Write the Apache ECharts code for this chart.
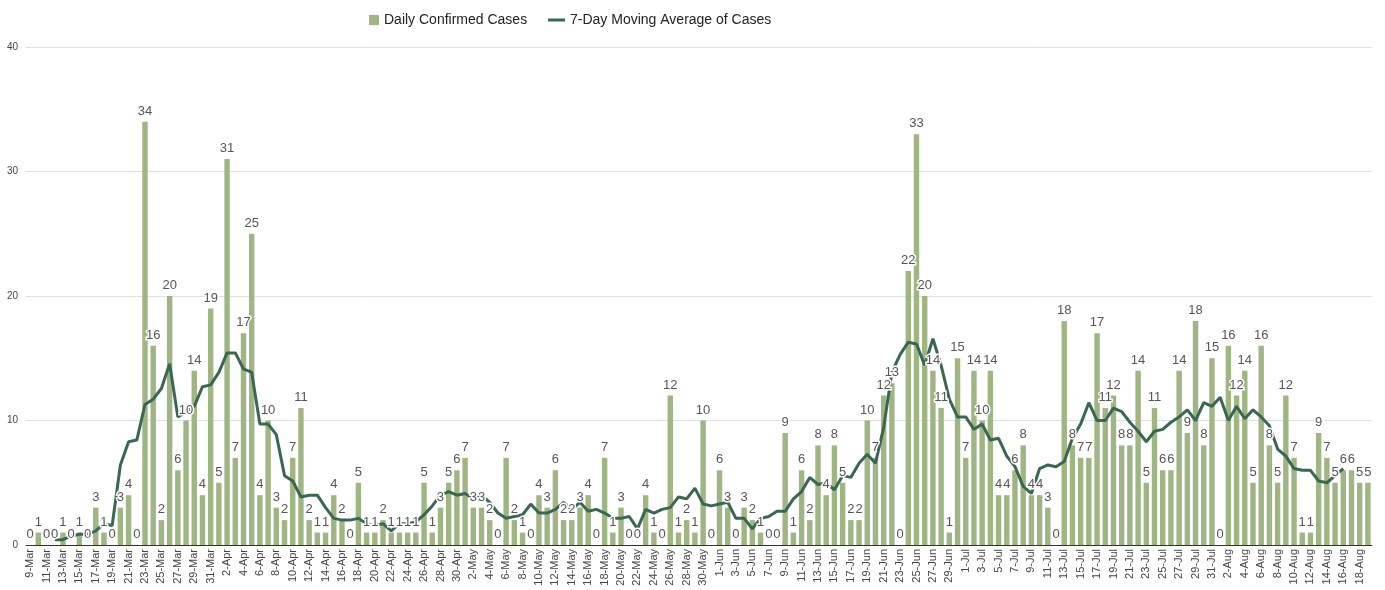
<!DOCTYPE html>
<html lang="en">
<head>
    <meta charset="UTF-8">
    <title>Daily Confirmed Cases</title>
    <script type="text/javascript" src="https://cdn.jsdelivr.net/npm/echarts@6/dist/echarts.min.js"></script>
    <style>
        html, body {
            margin: 0;
            padding: 0;
            background: #fff;
        }

        #container {
            width: 1385px;
            height: 590px;
        }
    </style>
</head>
<body>
<div id="container"></div>
</body>
<script>
    // month name, first day, last day shown on the axis
    const months = [['Mar', 9, 31], ['Apr', 1, 30], ['May', 1, 31], ['Jun', 1, 30], ['Jul', 1, 31], ['Aug', 1, 19]];

    const dailyMar = [0, 1, 0, 0, 1, 0, 1, 0, 3, 1, 0, 3, 4, 0, 34, 16, 2, 20, 6, 10, 14, 4, 19];
    const dailyApr = [5, 31, 7, 17, 25, 4, 10, 3, 2, 7, 11, 2, 1, 1, 4, 2, 0, 5, 1, 1, 2, 1, 1, 1, 1, 5, 1, 3, 5, 6];
    const dailyMay = [7, 3, 3, 2, 0, 7, 2, 1, 0, 4, 3, 6, 2, 2, 3, 4, 0, 7, 1, 3, 0, 0, 4, 1, 0, 12, 1, 2, 1, 10, 0];
    const dailyJun = [6, 3, 0, 3, 2, 1, 0, 0, 9, 1, 6, 2, 8, 4, 8, 5, 2, 2, 10, 7, 12, 13, 0, 22, 33, 20, 14, 11, 1, 15];
    const dailyJul = [7, 14, 10, 14, 4, 4, 6, 8, 4, 4, 3, 0, 18, 8, 7, 7, 17, 11, 12, 8, 8, 14, 5, 11, 6, 6, 14, 9, 18, 8, 15];
    const dailyAug = [0, 16, 12, 14, 5, 16, 8, 5, 12, 7, 1, 1, 9, 7, 5, 6, 6, 5, 5];

    // 7-day moving average (centred, blank at both ends)
    const avgMar = [null, null, null, 0.43, 0.43, 0.71, 0.86, 0.86, 1.14, 1.71, 1.57, 6.43, 8.29, 8.43, 11.29, 11.71, 12.57, 14.57, 10.29, 10.71, 11.14, 12.71, 12.86];
    const avgApr = [13.86, 15.43, 15.43, 14.14, 13.86, 9.71, 9.71, 8.86, 5.57, 5.14, 3.86, 4.0, 4.0, 3.0, 2.14, 2.0, 2.0, 2.14, 1.71, 1.57, 1.71, 1.14, 1.71, 1.71, 1.86, 2.43, 3.14, 4.0, 4.29, 4.0];
    const avgMay = [4.14, 3.71, 4.0, 3.43, 2.57, 2.14, 2.29, 2.43, 3.29, 2.57, 2.57, 2.86, 3.43, 2.86, 3.43, 2.71, 2.86, 2.57, 2.14, 2.14, 2.29, 1.29, 2.86, 2.57, 2.86, 3.0, 3.86, 3.71, 4.57, 3.29, 3.14];
    const avgJun = [3.29, 3.43, 2.14, 2.14, 1.29, 2.14, 2.29, 2.71, 2.71, 3.71, 4.29, 5.43, 4.86, 5.0, 4.43, 5.57, 5.43, 6.57, 7.29, 6.57, 9.43, 13.86, 15.29, 16.29, 16.14, 14.43, 16.57, 14.43, 11.71, 10.29];
    const avgJul = [10.29, 9.29, 9.71, 8.43, 8.57, 7.14, 6.29, 4.71, 4.14, 6.14, 6.43, 6.29, 6.71, 8.57, 9.71, 11.43, 10.0, 10.0, 11.0, 10.71, 9.86, 9.14, 8.29, 9.14, 9.29, 9.86, 10.29, 10.86, 10.0, 11.43, 11.14];
    const avgAug = [11.86, 10.0, 11.14, 10.14, 10.86, 10.29, 9.57, 7.71, 7.14, 6.14, 6.0, 6.0, 5.14, 5.0, 5.57, 6.14, null, null, null];

    const yTicks = [0, 10, 20, 30, 40];

    const categories = [];
    months.forEach(m => {
        for (let d = m[1]; d <= m[2]; d++) categories.push(d + '-' + m[0]);
    });
    const daily = [].concat(dailyMar, dailyApr, dailyMay, dailyJun, dailyJul, dailyAug);
    const average = [].concat(avgMar, avgApr, avgMay, avgJun, avgJul, avgAug);

    const font = 'Arial, "Liberation Sans", sans-serif';
    const container = document.getElementById('container');
    const myChart = echarts.init(container);

    const legendText = {
        color: '#222',
        fontSize: 14,
        fontFamily: font
    };

    let option = {
        animation: false,
        legend: [{
            data: ['Daily Confirmed Cases'],
            left: 364,
            top: 8,
            icon: 'rect',
            itemWidth: 10,
            itemHeight: 10,
            itemGap: 6,
            textStyle: legendText
        }, {
            data: ['7-Day Moving Average of Cases'],
            left: 543,
            top: 8,
            icon: 'rect',
            itemWidth: 17,
            itemHeight: 3,
            textStyle: legendText
        }],
        grid: {
            left: 26,
            right: 13,
            top: 47,
            bottom: 45
        },
        xAxis: {
            type: 'category',
            data: categories,
            axisLine: {lineStyle: {color: '#333', width: 1}},
            axisTick: {show: false},
            axisLabel: {
                rotate: 90,
                interval: 1,
                margin: 4,
                color: '#444',
                fontSize: 11,
                fontFamily: font
            }
        },
        yAxis: {
            type: 'value',
            min: yTicks[0],
            max: yTicks[yTicks.length - 1],
            interval: 10,
            axisLine: {show: false},
            axisTick: {show: false},
            splitLine: {lineStyle: {color: '#e0e0e0'}},
            axisLabel: {
                margin: 8,
                color: '#444',
                fontSize: 10,
                fontFamily: font
            }
        },
        series: [{
            name: 'Daily Confirmed Cases',
            type: 'bar',
            z: 2,
            data: daily,
            barCategoryGap: '34%',
            itemStyle: {color: '#9fb584'}
        }, {
            name: '7-Day Moving Average of Cases',
            type: 'line',
            z: 3,
            data: average,
            showSymbol: false,
            symbol: 'none',
            smooth: false,
            connectNulls: false,
            itemStyle: {color: '#3b6652'},
            lineStyle: {color: '#3b6652', width: 3}
        }, {
            // invisible copy of the bars, only to carry the value labels above the line
            name: 'labels',
            type: 'bar',
            z: 4,
            data: daily,
            barGap: '-100%',
            barCategoryGap: '34%',
            itemStyle: {color: 'rgba(0,0,0,0)'},
            silent: true,
            label: {
                show: true,
                position: 'top',
                distance: 4,
                color: '#555',
                fontSize: 13,
                fontFamily: font,
                textBorderColor: '#fff',
                textBorderWidth: 3
            }
        }]
    };
    myChart.setOption(option);

    window.onresize = myChart.resize;
</script>
</html>
